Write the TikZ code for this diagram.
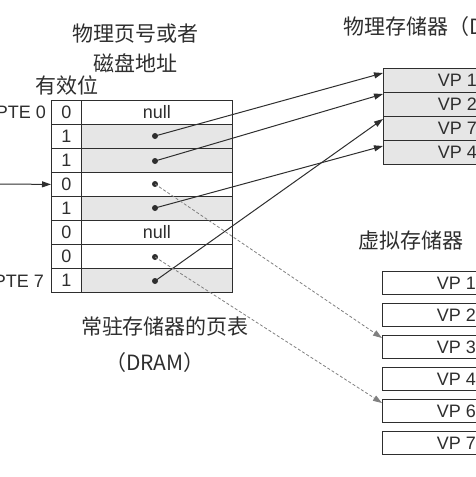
\documentclass[tikz,border=0pt]{standalone}
\usepackage{fontspec}
\setmainfont{Liberation Sans}
\newfontfamily\cjk{Noto Sans CJK SC}
\usetikzlibrary{arrows.meta}
\definecolor{ln}{HTML}{2E2E2E}
\definecolor{shade}{HTML}{E6E6E6}
\begin{document}
\begin{tikzpicture}[x=1pt,y=-1pt,
  vcell/.style={draw=ln, line width=0.8pt, minimum width=30pt, minimum height=24pt, inner sep=0pt, anchor=north west, font=\fontsize{18}{18}\selectfont, text=ln},
  acell/.style={draw=ln, line width=0.8pt, minimum width=151pt, minimum height=24pt, inner sep=0pt, anchor=north west, font=\fontsize{18}{18}\selectfont, text=ln},
  on/.style={fill=shade},
  pcell/.style={draw=ln, line width=0.8pt, fill=shade, minimum width=148pt, minimum height=24pt, inner sep=0pt, anchor=north west, font=\fontsize{18}{18}\selectfont, text=ln},
  vmcell/.style={draw=ln, line width=0.8pt, minimum width=148pt, minimum height=23pt, inner sep=0pt, anchor=north west, font=\fontsize{18}{18}\selectfont, text=ln},
  dot/.style={circle, fill=ln, minimum size=6pt, inner sep=0pt},
  ttl/.style={font=\cjk\fontsize{21}{21}\selectfont, text=ln, inner sep=0pt},
  lbl/.style={font=\fontsize{18}{18}\selectfont, text=ln, inner sep=0pt},
  sarrow/.style={draw=ln, line width=1pt, -{Triangle[length=9pt,width=6pt]}},
  darrow/.style={draw=gray, line width=0.8pt, densely dashed, -{Triangle[length=9pt,width=6pt]}}
]
\useasboundingbox (0,0) rectangle (476,477);
\clip (0,0) rectangle (476,477);
% titles
\node[ttl] (t1) at (135,34) {物理页号或者};
\node[ttl] (t2) at (135,63) {磁盘地址};
\node[ttl] (t3) at (67,85) {有效位};
\node[ttl, anchor=west] (t4) at (343,27) {物理存储器（DRAM）};
\node[ttl, anchor=west] (t5) at (358,240) {虚拟存储器};
\node[ttl] (t6) at (165,327) {常驻存储器的页表};
\node[ttl] (t7) at (155,363) {（DRAM）};
% page table
\node[vcell] (v0) at (51,100) {0};
\node[acell] (a0) at (81,100) {null};
\node[vcell] (v1) at (51,124) {1};
\node[acell,on] (a1) at (81,124) {};
\node[vcell] (v2) at (51,148) {1};
\node[acell,on] (a2) at (81,148) {};
\node[vcell] (v3) at (51,172) {0};
\node[acell] (a3) at (81,172) {};
\node[vcell] (v4) at (51,196) {1};
\node[acell,on] (a4) at (81,196) {};
\node[vcell] (v5) at (51,220) {0};
\node[acell] (a5) at (81,220) {null};
\node[vcell] (v6) at (51,244) {0};
\node[acell] (a6) at (81,244) {};
\node[vcell] (v7) at (51,268) {1};
\node[acell,on] (a7) at (81,268) {};
\node[lbl, anchor=east] (pte0) at (46,112) {PTE 0};
\node[lbl, anchor=east] (pte7) at (44,281) {PTE 7};
\coordinate (src) at (0,184);
\draw[sarrow] (src) -- (v3.west);
% dots
\node[dot] (d1) at (155,136) {};
\node[dot] (d2) at (155,161) {};
\node[dot] (d3) at (155,184) {};
\node[dot] (d4) at (155,208) {};
\node[dot] (d6) at (155,257) {};
\node[dot] (d7) at (155,281) {};
% physical memory
\node[pcell] (p1) at (383,68) {VP 1};
\node[pcell] (p2) at (383,92) {VP 2};
\node[pcell] (p3) at (383,116) {VP 7};
\node[pcell] (p4) at (383,140) {VP 4};
% virtual memory
\node[vmcell] (m1) at (382,271) {VP 1};
\node[vmcell] (m2) at (382,303) {VP 2};
\node[vmcell] (m3) at (382,335) {VP 3};
\node[vmcell] (m4) at (382,367) {VP 4};
\node[vmcell] (m5) at (382,399) {VP 6};
\node[vmcell] (m6) at (382,431) {VP 7};
% arrows
\draw[sarrow] (d1.center) -- ([yshift=-5pt]p1.north west);
\draw[sarrow] (d2.center) -- ([yshift=-2pt]p2.north west);
\draw[sarrow] (d4.center) -- ([yshift=-6pt]p4.north west);
\draw[sarrow] (d7.center) -- ([yshift=-3pt]p3.north west);
\draw[darrow] (d3.center) -- ([yshift=-3pt]m3.north west);
\draw[darrow] (d6.center) -- ([yshift=-4pt]m5.north west);
\end{tikzpicture}
\end{document}
